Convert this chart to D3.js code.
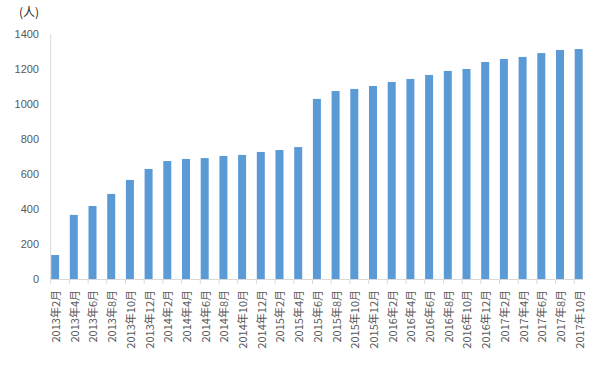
<!DOCTYPE html>
<html><head><meta charset="utf-8">
<script src="https://cdn.jsdelivr.net/npm/d3@7/dist/d3.min.js"></script>
<style>body{margin:0;background:#fff;}svg{display:block;}</style>
</head><body>
<svg id="c" width="599" height="387"></svg>
<script>
const categories = ["2013年2月","2013年4月","2013年6月","2013年8月","2013年10月","2013年12月",
"2014年2月","2014年4月","2014年6月","2014年8月","2014年10月","2014年12月",
"2015年2月","2015年4月","2015年6月","2015年8月","2015年10月","2015年12月",
"2016年2月","2016年4月","2016年6月","2016年8月","2016年10月","2016年12月",
"2017年2月","2017年4月","2017年6月","2017年8月","2017年10月"];
const values = [137,366,417,486,566,629,674,686,691,703,709,726,737,754,1029,1074,1086,1103,1126,1143,1166,1189,1200,1240,1257,1269,1291,1309,1314];
const yTicks = [0,200,400,600,800,1000,1200,1400];
const unitLabel = "(人)";

const svg = d3.select("#c");
const left = 50.7, band = 18.7;
const x = d3.scaleBand().domain(categories).range([left, left + band*categories.length]).padding(0);
const y = d3.scaleLinear().domain([0,1400]).range([279,34]);
const barW = 8;
const axisEnd = x(categories[categories.length-1]) + barW + 0.8;

// bars
svg.append("g").selectAll("rect").data(values).join("rect")
  .attr("x",(d,i)=>x(categories[i])+0.4)
  .attr("y",d=>y(d))
  .attr("width",barW)
  .attr("height",d=>y(0)-y(d))
  .attr("fill","#5B9BD5");

// y axis line
svg.append("line").attr("x1",left).attr("x2",left).attr("y1",y(1400)).attr("y2",y(0))
  .attr("stroke","#d9d9d9").attr("stroke-width",1);
// x axis line
svg.append("line").attr("x1",left).attr("x2",axisEnd).attr("y1",y(0)+0.5).attr("y2",y(0)+0.5)
  .attr("stroke","#d9d9d9").attr("stroke-width",1);
// x ticks
svg.append("g").selectAll("line").data(categories).join("line")
  .attr("x1",d=>x(d)).attr("x2",d=>x(d)).attr("y1",y(0)).attr("y2",284)
  .attr("stroke","#d9d9d9").attr("stroke-width",1);

// y labels
svg.append("g").selectAll("text").data(yTicks).join("text")
  .attr("x",39).attr("y",d=>y(d)).attr("dy","0.35em")
  .attr("text-anchor","end")
  .attr("font-family","'Liberation Sans', Arial, sans-serif").attr("font-size",11)
  .attr("fill","#595959").text(d=>d);

// x labels
svg.append("g").selectAll("text").data(categories).join("text")
  .attr("transform",d=>`translate(${x(d)+5.5},290) rotate(-90)`)
  .attr("dy","0.35em").attr("text-anchor","end")
  .attr("font-family","'Noto Sans CJK SC', sans-serif").attr("font-size",11)
  .attr("fill","#595959").text(d=>d);

// unit label
svg.append("text").attr("x",19).attr("y",13).attr("dy","0.35em")
  .attr("font-family","'Noto Sans CJK SC', sans-serif").attr("font-size",12)
  .attr("fill","#222").text(unitLabel);
</script>
</body></html>
